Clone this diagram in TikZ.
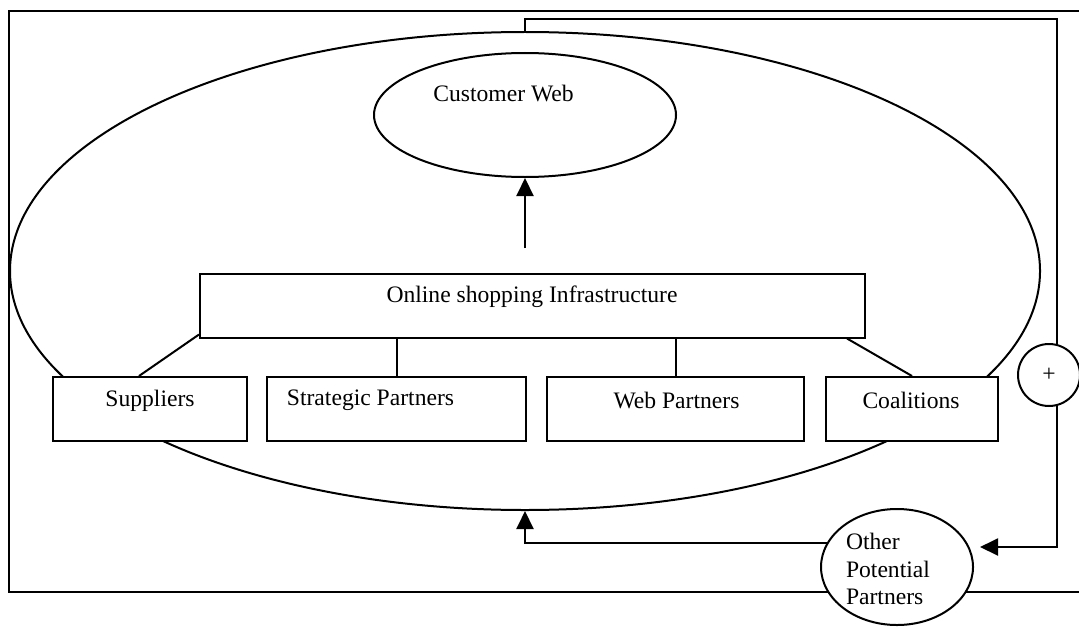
\documentclass[tikz,border=0pt]{standalone}
\usepackage{fontspec}
\setmainfont{Liberation Serif}
\usetikzlibrary{arrows.meta,shapes.geometric,backgrounds}
\begin{document}
\begin{tikzpicture}[x=0.5pt,y=-0.5pt,line width=1pt,
  box/.style={draw,line width=1pt,rectangle,fill=white,inner sep=0pt,minimum height=32pt},
  ell/.style={draw,line width=1pt,ellipse,inner sep=0pt},
  txt/.style={inner sep=0pt,font=\fontsize{11.8}{13.75}\selectfont},
  arr/.style={-{Triangle[length=9pt,width=8.5pt]}},
  conn/.style={line width=1pt}]
\useasboundingbox (0,0) rectangle (1079,626);
% outer frame
\draw[conn] (1079,10.7) -- (9,10.7) -- (9,592) -- (1079,592);
% big ellipse
\node[ell,minimum width=515pt,minimum height=239pt] (big) at (525,271) {};
% customer web
\node[ell,fill=white,minimum width=151pt,minimum height=62pt] (cw) at (525,115) {};
\node[txt] (cwt) at (503.5,93) {Customer Web};
% infrastructure
\node[box,minimum width=332.5pt] (onl) at (532.5,305.5) {};
\node[txt] (onlt) at (532,297) {Online shopping Infrastructure};
% partner boxes
\node[box,minimum width=97pt] (sup) at (150,409) {};
\node[txt] (supt) at (150,401) {Suppliers};
\node[box,minimum width=129.5pt] (str) at (396.5,409) {};
\node[txt] (strt) at (370.5,400) {Strategic Partners};
\node[box,minimum width=128.5pt] (web) at (675.5,409) {};
\node[txt] (webt) at (676.5,400) {Web Partners};
\node[box,minimum width=86pt] (coa) at (912,409) {};
\node[txt] (coat) at (911,400) {Coalitions};
% plus circle
\node[draw,line width=1pt,circle,fill=white,inner sep=0pt,minimum size=31pt] (plus) at (1049,375) {};
\node[txt] (plust) at (1049,375) {+};
% other potential partners
\node[ell,fill=white,minimum width=76pt,minimum height=58pt] (oth) at (897,567) {};
\node[txt,align=left,anchor=west] (otht) at (845,569) {Other\\Potential\\Partners};
% coordinates
\coordinate (arrbase) at (525,248);
\coordinate (tr) at (1057,19.5);
\coordinate (pb) at (1057,547);
\coordinate (oa) at (980,547);
\coordinate (bl) at (525,543);
% connectors
\draw[conn,arr] (arrbase) -- (cw.south);
\draw[conn] ([xshift=43.5pt]sup.north west) -- ([yshift=2pt]onl.south west);
\draw[conn] (str.north) -- (str.north |- onl.south);
\draw[conn] (web.north) -- (web.north |- onl.south);
\draw[conn] ([xshift=-9.5pt]onl.south east) -- (coa.north);
\begin{scope}[on background layer]
\draw[conn,arr] (big.north) |- (tr) -- (pb) -- (oa);
\draw[conn,arr] (bl -| oth.center) -- (bl) -- (big.south);
\end{scope}
\end{tikzpicture}
\end{document}
